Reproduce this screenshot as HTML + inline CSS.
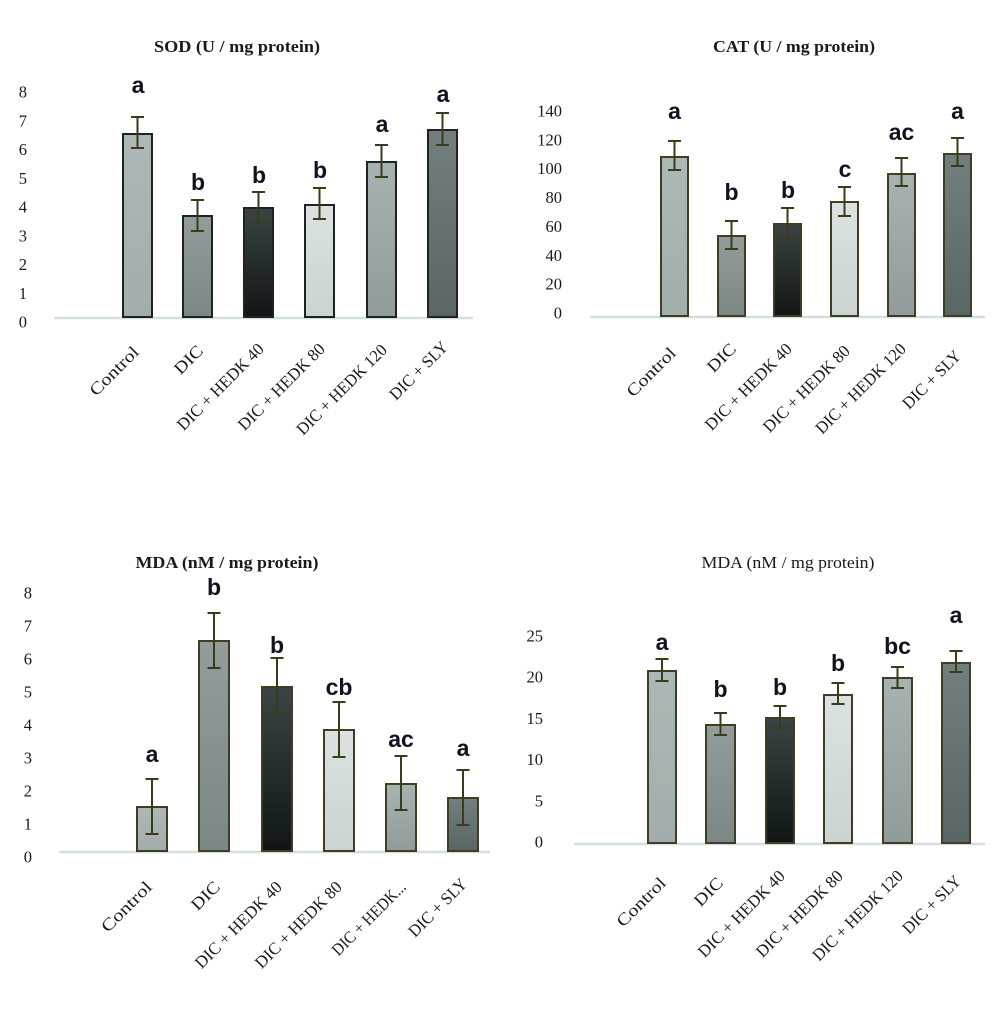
<!DOCTYPE html>
<html>
<head>
<meta charset="utf-8">
<style>
html,body{margin:0;padding:0;background:#fff;}
svg{display:block;}
.t{font-family:"Liberation Serif",serif;fill:#1a1a1a;}
.tk{font-family:"Liberation Serif",serif;font-size:16.5px;fill:#1a1a1a;text-anchor:end;}
.xl{font-family:"Liberation Serif",serif;font-size:17px;fill:#1a1a1a;text-anchor:end;}
.lt{font-family:"Liberation Sans",sans-serif;font-weight:bold;font-size:23px;fill:#111122;text-anchor:middle;}
.eb{stroke:#3b3b1c;stroke-width:2;fill:none;}
.base{stroke:#d3dfdf;stroke-width:2.5;}
</style>
</head>
<body>
<svg width="1000" height="1011" viewBox="0 0 1000 1011" xmlns="http://www.w3.org/2000/svg">
<defs>
<linearGradient id="g1" x1="0" y1="0" x2="0" y2="1"><stop offset="0" stop-color="#acb8b5"/><stop offset="1" stop-color="#a2aeab"/></linearGradient>
<linearGradient id="g2" x1="0" y1="0" x2="0" y2="1"><stop offset="0" stop-color="#929d9b"/><stop offset="1" stop-color="#7c8886"/></linearGradient>
<linearGradient id="g3" x1="0" y1="0" x2="0" y2="1"><stop offset="0" stop-color="#3b4444"/><stop offset="1" stop-color="#111515"/></linearGradient>
<linearGradient id="g4" x1="0" y1="0" x2="0" y2="1"><stop offset="0" stop-color="#dbe2df"/><stop offset="1" stop-color="#cbd4d1"/></linearGradient>
<linearGradient id="g5" x1="0" y1="0" x2="0" y2="1"><stop offset="0" stop-color="#a8b2b0"/><stop offset="1" stop-color="#919c9a"/></linearGradient>
<linearGradient id="g6" x1="0" y1="0" x2="0" y2="1"><stop offset="0" stop-color="#737f7e"/><stop offset="1" stop-color="#5a6666"/></linearGradient>
</defs>

<!-- ================= TOP LEFT: SOD ================= -->
<text class="t" x="237" y="52" font-size="17" font-weight="bold" text-anchor="middle" textLength="166" lengthAdjust="spacingAndGlyphs">SOD (U / mg protein)</text>
<g>
<text class="tk" x="27" y="327.5">0</text>
<text class="tk" x="27" y="298.8">1</text>
<text class="tk" x="27" y="270">2</text>
<text class="tk" x="27" y="241.3">3</text>
<text class="tk" x="27" y="212.5">4</text>
<text class="tk" x="27" y="183.8">5</text>
<text class="tk" x="27" y="155">6</text>
<text class="tk" x="27" y="126.3">7</text>
<text class="tk" x="27" y="97.5">8</text>
</g>
<line class="base" x1="54" y1="318" x2="473" y2="318"/>
<g stroke="#1e2222" stroke-width="2">
<rect x="123" y="134" width="29" height="183" fill="url(#g1)"/>
<rect x="183" y="216" width="29" height="101" fill="url(#g2)"/>
<rect x="244" y="208" width="29" height="109" fill="url(#g3)"/>
<rect x="305" y="205" width="29" height="112" fill="url(#g4)"/>
<rect x="367" y="162" width="29" height="155" fill="url(#g5)"/>
<rect x="428" y="130" width="29" height="187" fill="url(#g6)"/>
</g>
<g class="eb">
<path d="M137.5 117V148M131 117H144M131 148H144"/>
<path d="M197.5 200V231M191 200H204M191 231H204"/>
<path d="M258.5 192V223M252 192H265M252 223H265"/>
<path d="M319.5 188V219M313 188H326M313 219H326"/>
<path d="M381.5 145V177M375 145H388M375 177H388"/>
<path d="M442.5 113V145M436 113H449M436 145H449"/>
</g>
<g>
<text class="lt" x="138" y="93">a</text>
<text class="lt" x="198" y="190">b</text>
<text class="lt" x="259" y="183">b</text>
<text class="lt" x="320" y="178">b</text>
<text class="lt" x="382" y="132">a</text>
<text class="lt" x="443" y="102">a</text>
</g>
<g>
<text class="xl" transform="translate(140,353) rotate(-45)" textLength="62" lengthAdjust="spacingAndGlyphs">Control</text>
<text class="xl" transform="translate(204,352) rotate(-45)" textLength="33" lengthAdjust="spacingAndGlyphs">DIC</text>
<text class="xl" transform="translate(265,350) rotate(-45)" textLength="115" lengthAdjust="spacingAndGlyphs">DIC + HEDK 40</text>
<text class="xl" transform="translate(326,350) rotate(-45)" textLength="115" lengthAdjust="spacingAndGlyphs">DIC + HEDK 80</text>
<text class="xl" transform="translate(388,351) rotate(-45)" textLength="120" lengthAdjust="spacingAndGlyphs">DIC + HEDK 120</text>
<text class="xl" transform="translate(449,348) rotate(-45)" textLength="75" lengthAdjust="spacingAndGlyphs">DIC + SLY</text>
</g>

<!-- ================= TOP RIGHT: CAT ================= -->
<text class="t" x="794" y="52" font-size="17" font-weight="bold" text-anchor="middle" textLength="162" lengthAdjust="spacingAndGlyphs">CAT (U / mg protein)</text>
<g>
<text class="tk" x="562" y="318.5">0</text>
<text class="tk" x="562" y="289.6">20</text>
<text class="tk" x="562" y="260.8">40</text>
<text class="tk" x="562" y="231.9">60</text>
<text class="tk" x="562" y="203.1">80</text>
<text class="tk" x="562" y="174.2">100</text>
<text class="tk" x="562" y="145.3">120</text>
<text class="tk" x="562" y="116.5">140</text>
</g>
<line class="base" x1="590" y1="317" x2="985" y2="317"/>
<g stroke="#3e3e22" stroke-width="2">
<rect x="661" y="157" width="27" height="159" fill="url(#g1)"/>
<rect x="718" y="236" width="27" height="80" fill="url(#g2)"/>
<rect x="774" y="224" width="27" height="92" fill="url(#g3)"/>
<rect x="831" y="202" width="27" height="114" fill="url(#g4)"/>
<rect x="888" y="174" width="27" height="142" fill="url(#g5)"/>
<rect x="944" y="154" width="27" height="162" fill="url(#g6)"/>
</g>
<g class="eb">
<path d="M674.5 141V170M668 141H681M668 170H681"/>
<path d="M731.5 221V249M725 221H738M725 249H738"/>
<path d="M787.5 208V237M781 208H794M781 237H794"/>
<path d="M844.5 187V216M838 187H851M838 216H851"/>
<path d="M901.5 158V186M895 158H908M895 186H908"/>
<path d="M957.5 138V166M951 138H964M951 166H964"/>
</g>
<g>
<text class="lt" x="674.5" y="119">a</text>
<text class="lt" x="731.5" y="200">b</text>
<text class="lt" x="788" y="198">b</text>
<text class="lt" x="845" y="177">c</text>
<text class="lt" x="901.5" y="140">ac</text>
<text class="lt" x="957.5" y="119">a</text>
</g>
<g>
<text class="xl" transform="translate(677,354) rotate(-45)" textLength="62" lengthAdjust="spacingAndGlyphs">Control</text>
<text class="xl" transform="translate(737,350) rotate(-45)" textLength="33" lengthAdjust="spacingAndGlyphs">DIC</text>
<text class="xl" transform="translate(793,350) rotate(-45)" textLength="115" lengthAdjust="spacingAndGlyphs">DIC + HEDK 40</text>
<text class="xl" transform="translate(851,352) rotate(-45)" textLength="115" lengthAdjust="spacingAndGlyphs">DIC + HEDK 80</text>
<text class="xl" transform="translate(907,350) rotate(-45)" textLength="120" lengthAdjust="spacingAndGlyphs">DIC + HEDK 120</text>
<text class="xl" transform="translate(962,357) rotate(-45)" textLength="75" lengthAdjust="spacingAndGlyphs">DIC + SLY</text>
</g>

<!-- ================= BOTTOM LEFT: MDA ================= -->
<text class="t" x="227" y="568" font-size="17" font-weight="bold" text-anchor="middle" textLength="183" lengthAdjust="spacingAndGlyphs">MDA (nM / mg protein)</text>
<g>
<text class="tk" x="32" y="862.5">0</text>
<text class="tk" x="32" y="829.5">1</text>
<text class="tk" x="32" y="796.5">2</text>
<text class="tk" x="32" y="763.5">3</text>
<text class="tk" x="32" y="730.5">4</text>
<text class="tk" x="32" y="697.5">5</text>
<text class="tk" x="32" y="664.5">6</text>
<text class="tk" x="32" y="631.5">7</text>
<text class="tk" x="32" y="598.5">8</text>
</g>
<line class="base" x1="59" y1="852" x2="490" y2="852"/>
<g stroke="#3e3e22" stroke-width="2">
<rect x="137" y="807" width="30" height="44" fill="url(#g1)"/>
<rect x="199" y="641" width="30" height="210" fill="url(#g2)"/>
<rect x="262" y="687" width="30" height="164" fill="url(#g3)"/>
<rect x="324" y="730" width="30" height="121" fill="url(#g4)"/>
<rect x="386" y="784" width="30" height="67" fill="url(#g5)"/>
<rect x="448" y="798" width="30" height="53" fill="url(#g6)"/>
</g>
<g class="eb">
<path d="M152 779V834M145.5 779H158.5M145.5 834H158.5"/>
<path d="M214 613V668M207.5 613H220.5M207.5 668H220.5"/>
<path d="M277 658V713M270.5 658H283.5M270.5 713H283.5"/>
<path d="M339 702V757M332.5 702H345.5M332.5 757H345.5"/>
<path d="M401 756V810M394.5 756H407.5M394.5 810H407.5"/>
<path d="M463 770V825M456.5 770H469.5M456.5 825H469.5"/>
</g>
<g>
<text class="lt" x="152" y="762">a</text>
<text class="lt" x="214" y="595">b</text>
<text class="lt" x="277" y="653">b</text>
<text class="lt" x="339" y="695">cb</text>
<text class="lt" x="401" y="747">ac</text>
<text class="lt" x="463" y="756">a</text>
</g>
<g>
<text class="xl" transform="translate(153,888) rotate(-45)" textLength="64" lengthAdjust="spacingAndGlyphs">Control</text>
<text class="xl" transform="translate(221,888) rotate(-45)" textLength="33" lengthAdjust="spacingAndGlyphs">DIC</text>
<text class="xl" transform="translate(283,888) rotate(-45)" textLength="115" lengthAdjust="spacingAndGlyphs">DIC + HEDK 40</text>
<text class="xl" transform="translate(343,888) rotate(-45)" textLength="115" lengthAdjust="spacingAndGlyphs">DIC + HEDK 80</text>
<text class="xl" transform="translate(407,888) rotate(-45)" textLength="97" lengthAdjust="spacingAndGlyphs">DIC + HEDK...</text>
<text class="xl" transform="translate(468,885) rotate(-45)" textLength="75" lengthAdjust="spacingAndGlyphs">DIC + SLY</text>
</g>

<!-- ================= BOTTOM RIGHT: MDA ================= -->
<text class="t" x="788" y="568" font-size="17" text-anchor="middle" textLength="173" lengthAdjust="spacingAndGlyphs">MDA (nM / mg protein)</text>
<g>
<text class="tk" x="543" y="847.5">0</text>
<text class="tk" x="543" y="806.3">5</text>
<text class="tk" x="543" y="765.1">10</text>
<text class="tk" x="543" y="723.9">15</text>
<text class="tk" x="543" y="682.7">20</text>
<text class="tk" x="543" y="641.5">25</text>
</g>
<line class="base" x1="574" y1="844" x2="985" y2="844"/>
<g stroke="#3e3e22" stroke-width="2">
<rect x="648" y="671" width="28" height="172" fill="url(#g1)"/>
<rect x="706" y="725" width="29" height="118" fill="url(#g2)"/>
<rect x="766" y="718" width="28" height="125" fill="url(#g3)"/>
<rect x="824" y="695" width="28" height="148" fill="url(#g4)"/>
<rect x="883" y="678" width="29" height="165" fill="url(#g5)"/>
<rect x="942" y="663" width="28" height="180" fill="url(#g6)"/>
</g>
<g class="eb">
<path d="M662 659V681M655.5 659H668.5M655.5 681H668.5"/>
<path d="M720.5 713V735M714 713H727M714 735H727"/>
<path d="M780 706V728M773.5 706H786.5M773.5 728H786.5"/>
<path d="M838 683V704M831.5 683H844.5M831.5 704H844.5"/>
<path d="M897.5 667V688M891 667H904M891 688H904"/>
<path d="M956 651V672M949.5 651H962.5M949.5 672H962.5"/>
</g>
<g>
<text class="lt" x="662" y="650">a</text>
<text class="lt" x="720.5" y="697">b</text>
<text class="lt" x="780" y="695">b</text>
<text class="lt" x="838" y="671">b</text>
<text class="lt" x="897.5" y="654">bc</text>
<text class="lt" x="956" y="623">a</text>
</g>
<g>
<text class="xl" transform="translate(667,884) rotate(-45)" textLength="62" lengthAdjust="spacingAndGlyphs">Control</text>
<text class="xl" transform="translate(724,884) rotate(-45)" textLength="33" lengthAdjust="spacingAndGlyphs">DIC</text>
<text class="xl" transform="translate(786,877) rotate(-45)" textLength="115" lengthAdjust="spacingAndGlyphs">DIC + HEDK 40</text>
<text class="xl" transform="translate(844,877) rotate(-45)" textLength="115" lengthAdjust="spacingAndGlyphs">DIC + HEDK 80</text>
<text class="xl" transform="translate(904,877) rotate(-45)" textLength="120" lengthAdjust="spacingAndGlyphs">DIC + HEDK 120</text>
<text class="xl" transform="translate(962,882) rotate(-45)" textLength="75" lengthAdjust="spacingAndGlyphs">DIC + SLY</text>
</g>
</svg>
</body>
</html>
